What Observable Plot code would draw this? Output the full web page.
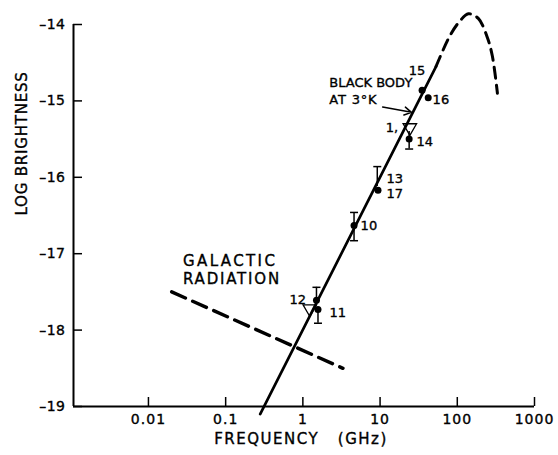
<!DOCTYPE html>
<html><head><meta charset="utf-8">
<script src="https://cdn.jsdelivr.net/npm/d3@7"></script>
<script src="https://cdn.jsdelivr.net/npm/@observablehq/plot@0.6"></script>
<style>body{margin:0;background:#fff} svg{display:block} svg text{stroke:#000;stroke-width:0.35px}</style>
</head><body><div id="chart"></div>
<script>
// axis ticks
const xTicks = [0.01, 0.1, 1, 10, 100, 1000];
const yTicks = [-19, -18, -17, -16, -15, -14];
// Rayleigh-Jeans part (solid) and black-body turnover (dashed)
const rjFreq = [0.28, 53];
const rjLogB = [-19.1, -14.55];
const planckFreq = [53, 81, 109, 139, 187, 245, 284, 331];
const planckLogB = [-14.55, -14.14, -13.95, -13.86, -13.92, -14.17, -14.41, -14.90];
// galactic radiation (dashed)
const galFreq = [0.02, 3.3];
const galLogB = [-17.5, -18.5];
// measurements (dots)
const dotLabel = ["15", "16", "14", "17", "10", "12", "11"];
const dotFreq = [35, 42, 23.8, 9.4, 4.6, 1.5, 1.57];
const dotLogB = [-14.86, -14.96, -15.5, -16.17, -16.63, -17.61, -17.73];
// error bars
const errLabel = ["14", "13", "10", "12", "11"];
const errFreq = [23.8, 9.2, 4.6, 1.5, 1.57];
const errLow = [-15.63, -16.12, -16.83, -17.61, -17.91];
const errHigh = [-15.4, -15.86, -16.46, -17.44, -17.73];
const errCapLow = [true, false, true, false, true];
const errCapHigh = [false, true, true, true, false];
// upper-limit triangles
const limitFreq = [24.3, 1.23];
const limitLogB = [-15.35, -17.72];
// reference numbers
const numText = ["15", "16", "1,", "14", "13", "17", "10", "12", "11"];
const numFreq = [30, 61.3, 14.2, 38, 15.5, 15.5, 7.16, 0.86, 2.84];
const numLogB = [-14.6, -14.99, -15.35, -15.53, -16.02, -16.21, -16.64, -17.6, -17.77];
// annotations
const noteText = ["BLACK BODY", "AT 3°K", "GALACTIC", "RADIATION"];
const noteFreq = [2.2, 2.2, 0.028, 0.028];
const noteLogB = [-14.76, -14.98, -17.1, -17.34];
const arrowFreq = [10.8, 25.5];
const arrowLogB = [-15.08, -15.15];

const rj = rjFreq.map((f, i) => ({f, b: rjLogB[i]}));
const planck = planckFreq.map((f, i) => ({f, b: planckLogB[i]}));
const gal = galFreq.map((f, i) => ({f, b: galLogB[i]}));
const dots = dotFreq.map((f, i) => ({f, b: dotLogB[i], label: dotLabel[i]}));
const errs = errFreq.map((f, i) => ({f, lo: errLow[i], hi: errHigh[i], label: errLabel[i]}));
const caps = [];
errs.forEach((e, i) => {
  if (errCapLow[i]) caps.push({f: e.f, b: e.lo});
  if (errCapHigh[i]) caps.push({f: e.f, b: e.hi});
});
const limits = limitFreq.map((f, i) => ({f, b: limitLogB[i]}));
const nums = numText.map((t, i) => ({t, f: numFreq[i], b: numLogB[i]}));
const notes = noteText.map((t, i) => ({t, f: noteFreq[i], b: noteLogB[i]}));
const arrow = [{x1: arrowFreq[0], y1: arrowLogB[0], x2: arrowFreq[1], y2: arrowLogB[1]}];

const capSymbol = {draw(ctx, size) { const r = Math.sqrt(size / Math.PI); ctx.moveTo(-r, 0); ctx.lineTo(r, 0); }};
const font = "DejaVu Sans, sans-serif";
const xTitle = "FREQUENCY\u00a0\u00a0\u00a0(GHz)";

const chart = Plot.plot({
  width: 558, height: 455,
  marginLeft: 73, marginRight: 24, marginTop: 24, marginBottom: 49,
  style: {fontFamily: font, background: "#fff", color: "#000"},
  x: {type: "log", domain: [0.00107, 1000]},
  y: {domain: [-19, -14]},
  marks: [
    Plot.ruleX([0.00107], {stroke: "#000", strokeWidth: 2}),
    Plot.ruleY([-19], {stroke: "#000", strokeWidth: 2}),
    Plot.axisX({ticks: xTicks, tickSize: -9, tickPadding: 17, tickFormat: d => String(d), label: null,
      fontSize: 14, strokeWidth: 1.5}),
    Plot.axisY({ticks: yTicks, tickSize: -9, tickPadding: 17, tickFormat: d => "–" + Math.abs(d), label: null,
      fontSize: 14, strokeWidth: 1.5}),
    Plot.text(["LOG BRIGHTNESS"], {frameAnchor: "left", dx: -51, rotate: -90, fontSize: 15}),
    Plot.text([xTitle], {frameAnchor: "bottom", dx: -3, dy: 37, fontSize: 15}),
    Plot.line(rj, {x: "f", y: "b", stroke: "#000", strokeWidth: 2.7}),
    Plot.line(planck, {x: "f", y: "b", stroke: "#000", strokeWidth: 3, strokeDasharray: "11,7", curve: "catmull-rom"}),
    Plot.line(gal, {x: "f", y: "b", stroke: "#000", strokeWidth: 3.5, strokeDasharray: "15,8"}),
    Plot.ruleX(errs, {x: "f", y1: "lo", y2: "hi", stroke: "#000", strokeWidth: 1.5}),
    Plot.dot(caps, {x: "f", y: "b", symbol: capSymbol, r: 4, stroke: "#000", strokeWidth: 1.5}),
    Plot.dot(limits, {x: "f", y: "b", symbol: "triangle", rotate: 180, r: 5, fill: "none", stroke: "#000", strokeWidth: 1.3}),
    Plot.dot(dots, {x: "f", y: "b", r: 3.5, fill: "#000"}),
    Plot.text(nums, {x: "f", y: "b", text: "t", fontSize: 13}),
    Plot.text(notes.slice(0, 2), {x: "f", y: "b", text: "t", textAnchor: "start", fontSize: 13}),
    Plot.text(notes.slice(2), {x: "f", y: "b", text: "t", textAnchor: "start", fontSize: 15}),
    Plot.arrow(arrow, {x1: "x1", y1: "y1", x2: "x2", y2: "y2", stroke: "#000", strokeWidth: 1.5, headLength: 8})
  ]
});

// letter spacing to mimic the hand lettering
const spacing = new Map([
  ["LOG BRIGHTNESS", 0.8], [xTitle, 1.5], ["GALACTIC", 2.4], ["RADIATION", 1.8],
  ["AT 3°K", 0.8]
]);
d3.select(chart).selectAll("text").each(function() {
  const s = spacing.get(this.textContent);
  if (s != null) this.setAttribute("letter-spacing", s);
});
d3.select(chart).selectAll('g[aria-label="x-axis tick label"] text').attr("letter-spacing", 1);
d3.select(chart).selectAll('g[aria-label="y-axis tick label"] text').attr("letter-spacing", 0.5);
document.getElementById("chart").append(chart);
</script>
</body></html>
